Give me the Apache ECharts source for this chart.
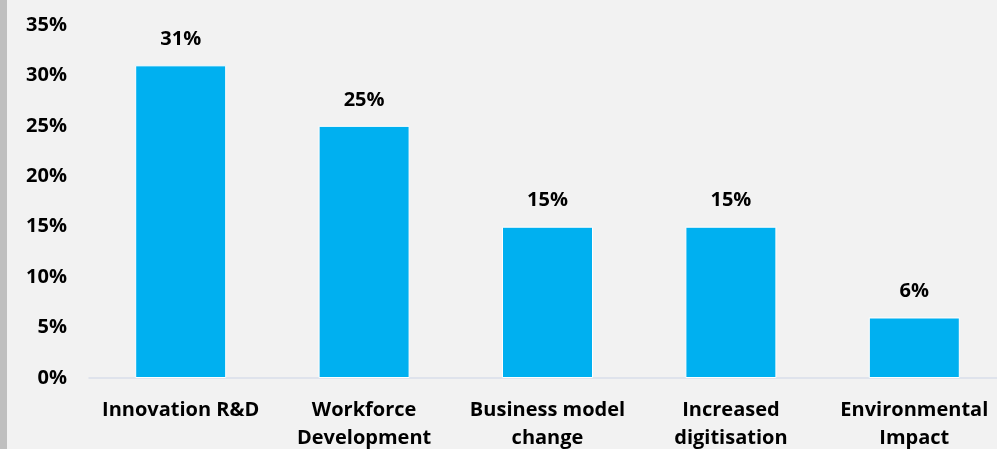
<!DOCTYPE html>
<html><head><meta charset="utf-8">
<script src="https://cdn.jsdelivr.net/npm/echarts@6/dist/echarts.min.js"></script>
<style>html,body{margin:0;padding:0;background:#F2F2F2}#c{width:997px;height:449px}</style>
</head><body><div id="c"></div>
<script>
const categories = ['Innovation R&D', 'Workforce\nDevelopment', 'Business model\nchange', 'Increased\ndigitisation', 'Environmental\nImpact'];
const values = [31, 25, 15, 15, 6];
const yTicks = [0, 5, 10, 15, 20, 25, 30, 35];

const FONT = '"Open Sans"';
const chart = echarts.init(document.getElementById('c'));
chart.setOption({
  backgroundColor: '#F2F2F2',
  animation: false,
  graphic: [{type: 'rect', left: 0, top: 0, shape: {width: 7, height: 449}, style: {fill: '#BFBFBF'}}],
  grid: {left: 89, top: 25, width: 917, bottom: 71, containLabel: false, outerBoundsMode: 'none'},
  xAxis: {
    type: 'category', data: categories,
    axisLine: {lineStyle: {color: '#D9DEEA', width: 1.5}},
    axisTick: {show: false},
    axisLabel: {interval: 0, color: '#000', fontFamily: FONT, fontWeight: 'bold', fontSize: 20, lineHeight: 28, margin: 18}
  },
  yAxis: {
    type: 'value', min: yTicks[0], max: yTicks[yTicks.length - 1], interval: 5,
    splitLine: {show: false}, axisLine: {show: false}, axisTick: {show: false},
    axisLabel: {formatter: '{value}%', color: '#000', fontFamily: FONT, fontWeight: 'bold', fontSize: 20, margin: 22}
  },
  series: [{
    type: 'bar', data: values, barWidth: 91,
    itemStyle: {color: '#00B0F0', borderColor: '#FFFFFF', borderWidth: 1},
    label: {show: true, position: 'top', distance: 16, formatter: '{c}%', color: '#000', fontFamily: FONT, fontWeight: 'bold', fontSize: 20}
  }]
});
</script></body></html>
